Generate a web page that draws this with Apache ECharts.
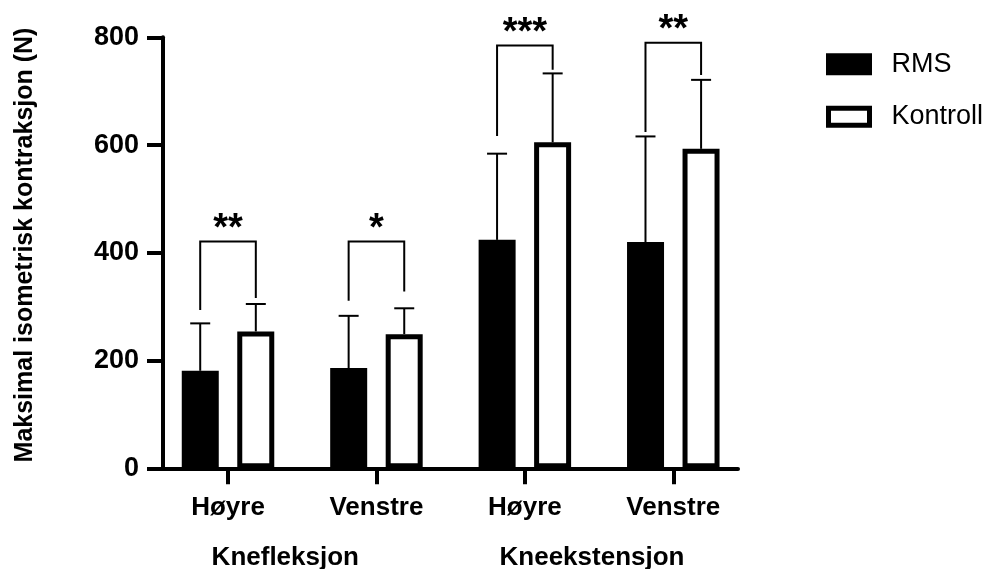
<!DOCTYPE html>
<html>
<head>
<meta charset="utf-8">
<script src="https://cdn.jsdelivr.net/npm/echarts@6/dist/echarts.min.js"></script>
<style>
  html, body { margin: 0; padding: 0; background: #fff; }
  #chart { width: 987px; height: 569px; }
</style>
</head>
<body>
<div id="chart"></div>
<script>
const categories = ['Høyre', 'Venstre', 'Høyre', 'Venstre'];
const groups = ['Knefleksjon', 'Kneekstensjon'];
const seriesNames = ['RMS', 'Kontroll'];
const rmsMean = [181, 186, 424, 420];
const rmsUpper = [269, 283, 584, 616];
const kontrollMean = [254, 249, 605, 593];
const kontrollUpper = [305, 297, 733, 721];
const bracketTop = [421, 421, 785, 790];
const bracketLeftEnd = [294, 311, 617, 624];
const bracketRightEnd = [316, 328, 740, 730];
const stars = ['**', '*', '***', '**'];
const yTicks = [0, 200, 400, 600, 800];
const yTitle = 'Maksimal isometrisk kontraksjon (N)';

const FONT = "'Liberation Sans', Arial, Helvetica, sans-serif";
const BAR_W = 37, BORDER = 5, GAP = '50%';
const OFFSET = 27.8; // px offset of each bar centre from category centre

const chart = echarts.init(document.getElementById('chart'));

function errorBarRender(sign) {
  return function (params, api) {
    const i = api.value(0);
    const p0 = api.coord([i, api.value(1)]);
    const p1 = api.coord([i, api.value(2)]);
    const x = p0[0] + sign * OFFSET;
    const style = { stroke: '#000', lineWidth: 2 };
    return {
      type: 'group',
      children: [
        { type: 'line', shape: { x1: x, y1: p0[1], x2: x, y2: p1[1] }, style: style },
        { type: 'line', shape: { x1: x - 10, y1: p1[1], x2: x + 10, y2: p1[1] }, style: style }
      ]
    };
  };
}

const option = {
  animation: false,
  backgroundColor: '#fff',
  textStyle: { fontFamily: FONT },
  grid: [
    { left: 153.8, right: 239.5, top: 37.3, bottom: 100.7 },
    { left: 163, right: 249, top: 37.3, bottom: 100.7 }
  ],
  legend: {
    orient: 'vertical',
    left: 826,
    top: 50.7,
    padding: 0,
    icon: 'rect',
    itemWidth: 41,
    itemHeight: 17,
    itemGap: 25.6,
    textStyle: { fontSize: 27, color: '#000', fontFamily: FONT, lineHeight: 22, padding: [0, 0, 0, 17] },
    data: [
      { name: seriesNames[0], itemStyle: { color: '#000', borderColor: '#000', borderWidth: BORDER } },
      { name: seriesNames[1], itemStyle: { color: '#fff', borderColor: '#000', borderWidth: BORDER } }
    ]
  },
  xAxis: [
    {
      type: 'category', gridIndex: 0, data: categories,
      axisLine: { show: false },
      axisTick: { show: true, alignWithLabel: true, length: 16, lineStyle: { color: '#000', width: 4 } },
      axisLabel: { fontSize: 26, fontWeight: 'bold', color: '#000', margin: 27, fontFamily: FONT },
      splitLine: { show: false }
    },
    {
      type: 'value', gridIndex: 1, min: 0, max: 1,
      axisLine: { show: true, lineStyle: { color: '#000', width: 4 } },
      axisTick: { show: false }, axisLabel: { show: false }, splitLine: { show: false }
    }
  ],
  yAxis: [
    {
      type: 'value', gridIndex: 0, min: 0, max: 800, interval: 200,
      show: false, splitLine: { show: false }
    },
    {
      type: 'value', gridIndex: 1, min: 0, max: 800, interval: 200,
      axisLine: { show: true, lineStyle: { color: '#000', width: 4 } },
      axisTick: { show: true, length: 16, lineStyle: { color: '#000', width: 4 } },
      axisLabel: {
        fontSize: 27, fontWeight: 'bold', color: '#000', margin: 24, fontFamily: FONT,
        formatter: function (v) { return yTicks.indexOf(v) >= 0 ? String(v) : ''; }
      },
      splitLine: { show: false }
    }
  ],
  graphic: [
    {
      type: 'text', x: 25, y: 245, rotation: Math.PI / 2,
      style: { text: yTitle, font: 'bold 25px ' + FONT, fill: '#000', align: 'center', verticalAlign: 'middle' }
    },
    {
      type: 'text', x: 285.3, y: 558,
      style: { text: groups[0], font: 'bold 26px ' + FONT, fill: '#000', align: 'center', verticalAlign: 'middle' }
    },
    {
      type: 'text', x: 592, y: 558,
      style: { text: groups[1], font: 'bold 26px ' + FONT, fill: '#000', align: 'center', verticalAlign: 'middle' }
    }
  ],
  series: [
    {
      name: seriesNames[0], type: 'bar', xAxisIndex: 0, yAxisIndex: 0,
      barWidth: BAR_W, barGap: GAP, data: rmsMean,
      itemStyle: { color: '#000', borderColor: '#000', borderWidth: BORDER }, z: 2
    },
    {
      name: seriesNames[1], type: 'bar', xAxisIndex: 0, yAxisIndex: 0,
      barWidth: BAR_W, barGap: GAP, data: kontrollMean,
      itemStyle: { color: '#fff', borderColor: '#000', borderWidth: BORDER }, z: 2
    },
    {
      type: 'custom', xAxisIndex: 0, yAxisIndex: 0, z: 1,
      data: rmsMean.map(function (m, i) { return [i, m, rmsUpper[i]]; }),
      renderItem: errorBarRender(-1)
    },
    {
      type: 'custom', xAxisIndex: 0, yAxisIndex: 0, z: 1,
      data: kontrollMean.map(function (m, i) { return [i, m, kontrollUpper[i]]; }),
      renderItem: errorBarRender(1)
    },
    {
      type: 'custom', xAxisIndex: 0, yAxisIndex: 0, z: 3,
      data: bracketTop.map(function (t, i) { return [i, t, bracketLeftEnd[i], bracketRightEnd[i]]; }),
      renderItem: function (params, api) {
        const i = api.value(0);
        const top = api.coord([i, api.value(1)]);
        const le = api.coord([i, api.value(2)]);
        const re = api.coord([i, api.value(3)]);
        const xl = top[0] - OFFSET, xr = top[0] + OFFSET;
        return {
          type: 'group',
          children: [
            {
              type: 'polyline',
              shape: { points: [[xl, le[1]], [xl, top[1]], [xr, top[1]], [xr, re[1]]] },
              style: { stroke: '#000', lineWidth: 2, fill: null }
            },
            {
              type: 'text',
              style: {
                text: stars[params.dataIndex], x: top[0], y: top[1] - 12,
                font: 'bold 38px ' + FONT, fill: '#000', align: 'center', verticalAlign: 'middle'
              }
            }
          ]
        };
      }
    }
  ]
};

chart.setOption(option);
</script>
</body>
</html>
